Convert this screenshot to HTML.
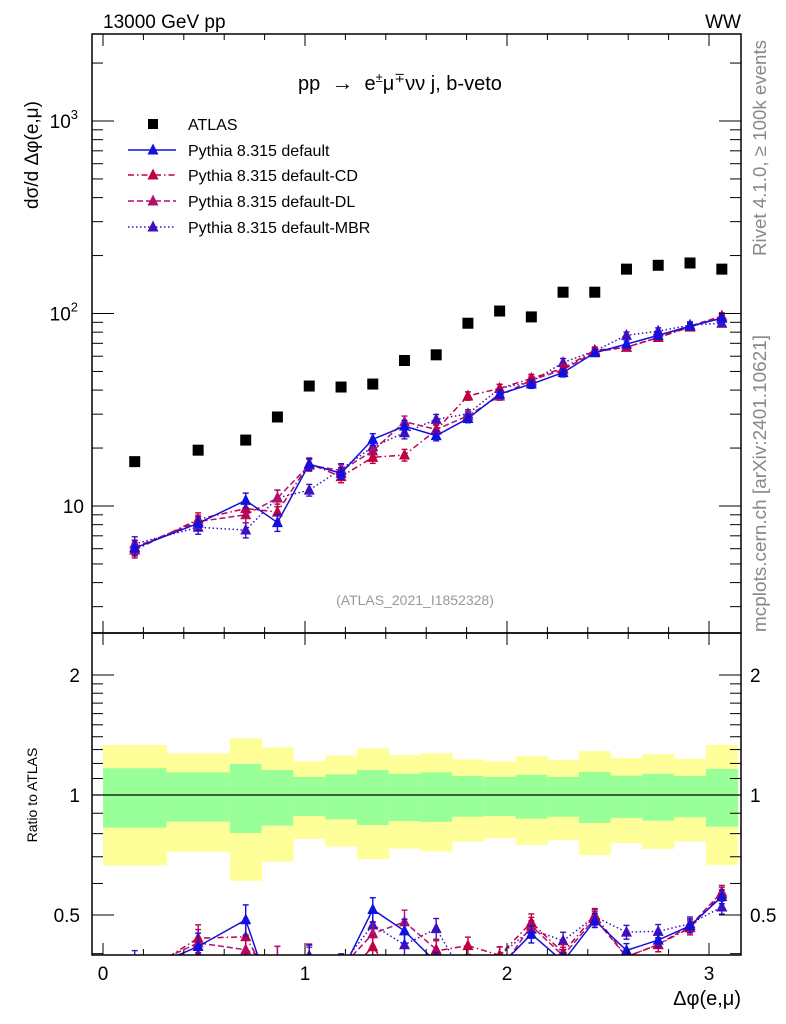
<!DOCTYPE html>
<html><head><meta charset="utf-8">
<style>
html,body{margin:0;padding:0;background:#fff;}
svg{display:block;font-family:"Liberation Sans",sans-serif;}
</style></head>
<body>
<svg id="chart" width="786" height="1024" viewBox="0 0 786 1024" xmlns="http://www.w3.org/2000/svg">
<defs>
<clipPath id="clipMain"><rect x="92" y="34" width="649" height="599"/></clipPath>
<clipPath id="clipRatio"><rect x="92" y="633" width="649" height="322"/></clipPath>
</defs>
<text x="103" y="28" font-size="19">13000 GeV pp</text>
<text x="741" y="28" font-size="19" text-anchor="end">WW</text>
<text x="298" y="90" font-size="20" xml:space="preserve">pp  <tspan font-size="22">→</tspan>  e<tspan font-size="13" dy="-8">±</tspan><tspan dy="8">μ</tspan><tspan font-size="13" dy="-8">∓</tspan><tspan dy="8">νν j, b-veto</tspan></text>
<text transform="translate(38,155) rotate(-90)" font-size="19" text-anchor="middle">dσ/d Δφ(e,μ)</text>
<text transform="translate(37,795) rotate(-90)" font-size="14" text-anchor="middle">Ratio to ATLAS</text>
<text x="741" y="1005" font-size="20" text-anchor="end">Δφ(e,μ)</text>
<text transform="translate(766,256) rotate(-90)" font-size="18.5" fill="#888" textLength="216" lengthAdjust="spacingAndGlyphs">Rivet 4.1.0, ≥ 100k events</text>
<text transform="translate(766,632) rotate(-90)" font-size="18.5" fill="#888" textLength="297" lengthAdjust="spacingAndGlyphs">mcplots.cern.ch [arXiv:2401.10621]</text>
<text x="415" y="605" font-size="14" fill="#999" text-anchor="middle">(ATLAS_2021_I1852328)</text>
<g id="ratioLayer"></g>
<g id="mainLayer"></g>
<g id="axesLayer"></g>
<g id="legendLayer"></g>
</svg>
<script>
const binEdges = [0,0.314,0.628,0.785,0.942,1.100,1.257,1.414,1.571,1.728,1.885,2.042,2.199,2.356,2.513,2.670,2.827,2.985,3.142];
const atlasValues = [17,19.5,22,29,42,41.5,43,57,61,89,103,96,129,129,170,178,183,170];
const defaultValues = [6.05,8.13,10.7,8.2,16.5,14.8,22.2,26,23.2,28.5,38.2,43.0,49.3,62.5,69.3,77.0,86.0,94.5];
const cdValues = [5.9,8.53,9.7,9.3,16.6,14.2,17.9,18.4,24.8,37.3,40.8,46.0,51.9,64.4,66.8,75.0,85.0,96.0];
const dlValues = [6.1,8.3,9.0,11.0,16.3,15.3,19.3,27.4,25.0,29.4,37.3,45.1,51.0,63.2,66.8,75.0,86.0,97.0];
const mbrValues = [6.35,7.75,7.5,11.0,12.1,15.5,20.3,24.0,28.2,30.1,40.8,44.2,55.6,63.9,77.0,81.0,87.0,89.0];
const mcRelErr = [0.09,0.08,0.09,0.1,0.07,0.07,0.07,0.07,0.06,0.05,0.05,0.05,0.05,0.04,0.04,0.04,0.04,0.04];
const yellowHi = [1.335,1.272,1.388,1.317,1.215,1.257,1.31,1.26,1.272,1.229,1.215,1.252,1.224,1.289,1.238,1.267,1.233,1.335];
const yellowLo = [0.665,0.72,0.609,0.68,0.776,0.742,0.69,0.734,0.722,0.764,0.779,0.749,0.771,0.707,0.757,0.732,0.764,0.667];
const greenHi = [1.167,1.14,1.196,1.155,1.11,1.127,1.155,1.13,1.14,1.116,1.11,1.124,1.11,1.142,1.118,1.13,1.116,1.162];
const greenLo = [0.828,0.857,0.803,0.838,0.886,0.869,0.841,0.86,0.856,0.882,0.886,0.872,0.882,0.851,0.876,0.862,0.879,0.833];
const xTicks = [0,1,2,3];

const NS="http://www.w3.org/2000/svg";
const L=92,R=741,T=34,MB=633,RB=955;
const X=v=>103+v*202;
const Ym=v=>506-192.5*Math.log10(v/10);
const Yr=v=>795-398.7*Math.log10(v);
function el(tag,attrs,parent){const e=document.createElementNS(NS,tag);for(const k in attrs)e.setAttribute(k,attrs[k]);parent.appendChild(e);return e;}
const ratioG=document.getElementById('ratioLayer');
const mainG=document.getElementById('mainLayer');
const axesG=document.getElementById('axesLayer');
const legG=document.getElementById('legendLayer');
const centers=binEdges.slice(0,-1).map((e,i)=>(e+binEdges[i+1])/2);

const bandG=el('g',{'clip-path':'url(#clipRatio)'},ratioG);
for(let i=0;i<centers.length;i++){
  const x0=X(binEdges[i]),x1=X(binEdges[i+1]);
  const y=el('rect',{x:x0,y:Yr(yellowHi[i]),width:x1-x0+0.5,height:Yr(yellowLo[i])-Yr(yellowHi[i]),fill:'#ffff99'},bandG);
  
  
  const g=el('rect',{x:x0,y:Yr(greenHi[i]),width:x1-x0+0.5,height:Yr(greenLo[i])-Yr(greenHi[i]),fill:'#99ff99'},bandG);
  
  
}
const unity=el('line',{x1:L,x2:R,y1:Yr(1),y2:Yr(1),stroke:'#000','stroke-width':1.2},bandG);



const mG=el('g',{'clip-path':'url(#clipMain)'},mainG);
atlasValues.forEach((v,i)=>{
  const r=el('rect',{x:X(centers[i])-5.5,y:Ym(v)-5.5,width:11,height:11,fill:'#000'},mG);
  
  
});

const series=[
 {name:'default',vals:defaultValues,color:'#1010e0',dash:''},
 {name:'default-cd',vals:cdValues,color:'#c00040',dash:'6,3,1.5,3'},
 {name:'default-dl',vals:dlValues,color:'#b01070',dash:'6,3'},
 {name:'default-mbr',vals:mbrValues,color:'#4010c0',dash:'1.5,2.5'}
];
function tri(x,y,c,p,nm){const t=el('polygon',{points:`${x-5.5},${y+4.5} ${x+5.5},${y+4.5} ${x},${y-6.5}`,fill:c},p);return t;}
function drawSeries(s,vals,Yf,g){
  const pts=vals.map((v,i)=>`${X(centers[i])},${Yf(v)}`).join(' ');
  const pl=el('polyline',{points:pts,fill:'none',stroke:s.color,'stroke-width':1.5,'stroke-dasharray':s.dash},g);
  
  
  vals.forEach((v,i)=>{
    const x=X(centers[i]),y1=Yf(v*(1+mcRelErr[i])),y2=Yf(v*(1-mcRelErr[i]));
    el('line',{x1:x,x2:x,y1:y1,y2:y2,stroke:s.color,'stroke-width':1.4},g);
    el('line',{x1:x-3,x2:x+3,y1:y1,y2:y1,stroke:s.color,'stroke-width':1.4},g);
    el('line',{x1:x-3,x2:x+3,y1:y2,y2:y2,stroke:s.color,'stroke-width':1.4},g);
    tri(x,Yf(v),s.color,g,s.name+'-marker');
  });
}
const rG=el('g',{'clip-path':'url(#clipRatio)'},ratioG);
series.slice().reverse().forEach(s=>{
  drawSeries(s,s.vals,Ym,mG);
  drawSeries(s,s.vals.map((v,i)=>v/atlasValues[i]),Yr,rG);
});

function line(x1,y1,x2,y2,w){el('line',{x1,y1,x2,y2,stroke:'#000','stroke-width':w||1},axesG);}
el('rect',{x:L,y:T,width:R-L,height:MB-T,fill:'none',stroke:'#000','stroke-width':1.5},axesG);
el('rect',{x:L,y:MB,width:R-L,height:RB-MB,fill:'none',stroke:'#000','stroke-width':1.5},axesG);
for(let v=0;v<=3.1;v+=0.2){
  const x=X(v),maj=Math.abs(v-Math.round(v))<1e-6,len=maj?12:6;
  [[T,1],[MB,-1],[MB,1],[RB,-1]].forEach(([y,d])=>line(x,y,x,y+d*len));
}
xTicks.forEach(t=>{const tx=el('text',{x:X(t),y:980,'font-size':19,'text-anchor':'middle'},axesG);tx.textContent=t;});
for(let d=0;d<=3;d++){for(let m=1;m<=9;m++){const v=m*Math.pow(10,d);const y=Ym(v);if(y<T||y>MB)continue;const len=m===1?22:11;line(L,y,L+len,y);line(R,y,R-len,y);}}
[[10,'10',''],[100,'10','2'],[1000,'10','3']].forEach(([v,b,e])=>{
  const t=el('text',{x:e?78:84,y:Ym(v)+7,'font-size':19,'text-anchor':'end'},axesG);
  t.textContent=b;
  if(e){const s=el('tspan',{'font-size':13,dy:-9},t);s.textContent=e;}
  
});
[0.4,0.5,0.6,0.7,0.8,0.9,1,2].forEach(v=>{const y=Yr(v);const len=(v===0.5||v===1||v===2)?22:11;line(L,y,L+len,y);line(R,y,R-len,y);});
for(let v=1.1;v<2;v+=0.1){const y=Yr(v);line(L,y,L+11,y);line(R,y,R-11,y);}
[[2,'2'],[1,'1'],[0.5,'0.5']].forEach(([v,s])=>{
  const a=el('text',{x:80,y:Yr(v)+7,'font-size':19,'text-anchor':'end'},axesG);a.textContent=s;
  
  const b=el('text',{x:750,y:Yr(v)+7,'font-size':19},axesG);b.textContent=s;
  
});

const legY=[124,150,175,201,227];
const la=el('rect',{x:148,y:legY[0]-5,width:10,height:10,fill:'#000'},legG);

const labels=['ATLAS','Pythia 8.315 default','Pythia 8.315 default-CD','Pythia 8.315 default-DL','Pythia 8.315 default-MBR'];
labels.forEach((s,i)=>{
  const t=el('text',{x:188,y:legY[i]+6,'font-size':16},legG);t.textContent=s;
  
});
series.forEach((s,i)=>{
  const y=legY[i+1];
  const l=el('line',{x1:128,x2:176,y1:y,y2:y,stroke:s.color,'stroke-width':1.4,'stroke-dasharray':s.dash},legG);
  
  tri(153,y,s.color,legG,'legend-marker');
});
</script>
</body></html>
